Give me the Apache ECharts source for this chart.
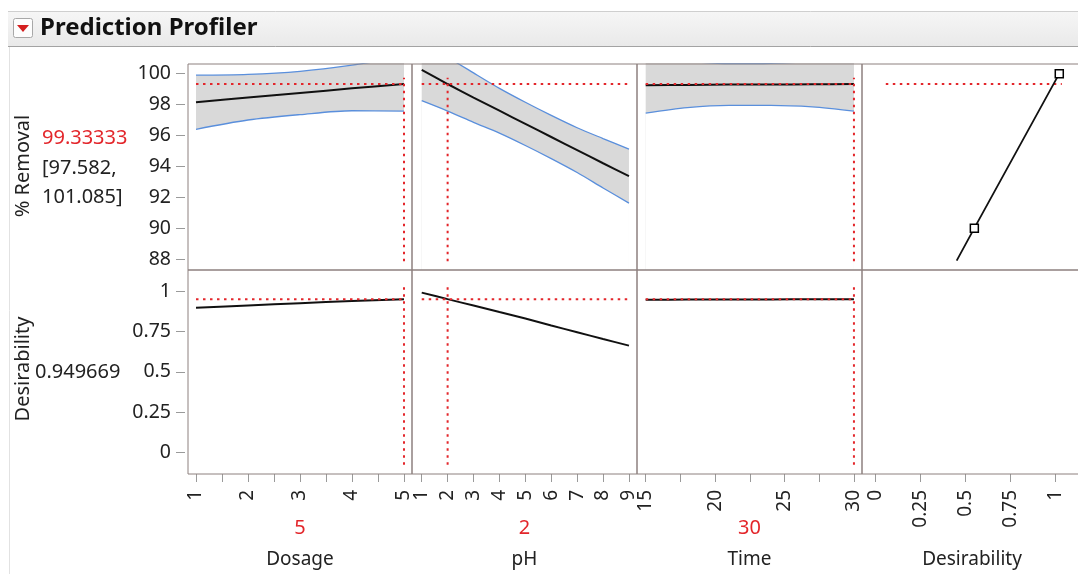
<!DOCTYPE html>
<html>
<head>
<meta charset="utf-8">
<title>Prediction Profiler</title>
<script src="https://cdn.jsdelivr.net/npm/echarts@6/dist/echarts.min.js"></script>
<style>html,body{margin:0;padding:0;background:#fff;}</style>
</head>
<body>
<div id="main" style="width:1078px;height:574px;"></div>
<script>
// profile traces
var dosage = [1, 2, 3, 4, 5];
var dosagePred = [98.15, 98.45, 98.75, 99.05, 99.33];
var dosageLow = [96.4, 97.0, 97.35, 97.6, 97.58];
var dosageHigh = [99.9, 99.95, 100.15, 100.55, 101.085];
var dosageDes = [0.897, 0.911, 0.925, 0.938, 0.9497];

var ph = [1, 2, 3, 4, 5, 6, 7, 8, 9];
var phPred = [100.25, 99.33, 98.45, 97.6, 96.75, 95.9, 95.05, 94.2, 93.37];
var phLow = [98.25, 97.58, 96.85, 96.15, 95.35, 94.5, 93.6, 92.6, 91.62];
var phHigh = [102.25, 101.08, 100.05, 99.05, 98.15, 97.3, 96.5, 95.8, 95.12];
var phDes = [0.99, 0.9497, 0.91, 0.87, 0.83, 0.787, 0.745, 0.703, 0.662];

var time = [15, 18, 21, 24, 27, 30];
var timePred = [99.25, 99.27, 99.29, 99.3, 99.31, 99.33];
var timeLow = [97.45, 97.8, 97.95, 97.95, 97.85, 97.58];
var timeHigh = [101.05, 100.8, 100.65, 100.67, 100.8, 101.085];
var timeDes = [0.946, 0.947, 0.948, 0.948, 0.949, 0.9497];

// desirability function of % Removal
var desFnX = [0.451, 0.549, 1.02];
var desFnY = [87.9, 90, 100];

var factorNames = ['Dosage', 'pH', 'Time', 'Desirability'];
var currentSettings = [5, 2, 30];
var predicted = 99.33333;
var ciLow = '97.582';
var ciHigh = '101.085';
var overallDes = 0.949669;

// tick labels
var removalTicks = [88, 90, 92, 94, 96, 98, 100];
var desTicks = [0, 0.25, 0.5, 0.75, 1];
var dosageTicks = [1, 2, 3, 4, 5];
var dosageMinor = [1.5, 2.5, 3.5, 4.5];
var phTicks = [1, 2, 3, 4, 5, 6, 7, 8, 9];
var timeTicks = [15, 20, 25, 30];
var timeMinor = [17.5, 22.5, 27.5];
var desXTicks = [0, 0.25, 0.5, 0.75, 1];

// layout
var FONT = 'Noto Sans';
var RED = '#e3262b';
var colLeft = [188, 412, 637, 862];
var colWidth = [224, 225, 225, 220];
var rowTop = [64, 270];
var rowHeight = [206, 204];
var xRange = [[0.846, 5.154], [0.625, 9.31], [14.375, 30.58], [-0.074, 1.146]];
var yRange = [[87.29, 100.625], [-0.132, 1.13]];
var vRefSpan = [[87.85, 99.74], [-0.075, 1.05]];
var desRefSpan = [0.058, 1.034];

var majorX = [dosageTicks, phTicks, timeTicks, desXTicks];
var allX = [dosageTicks.concat(dosageMinor), phTicks, timeTicks.concat(timeMinor), desXTicks];
var majorY = [removalTicks, desTicks];

function pairs(xs, ys) {
    return xs.map(function (x, i) { return [x, ys[i]]; });
}

var myChart = echarts.init(document.getElementById('main'));

var grids = [], xAxes = [], yAxes = [], series = [];
for (var i = 0; i < 8; i++) {
    var col = i % 4, row = Math.floor(i / 4);
    grids.push({
        left: colLeft[col], top: rowTop[row], width: colWidth[col], height: rowHeight[row],
        show: true, z: 5, backgroundColor: 'transparent', outerBoundsMode: 'none', containLabel: false,
        borderColor: '#8d807e', borderWidth: 1
    });
    var nm = col < 3 ? String(currentSettings[col]) : ' ';
    xAxes.push({
        gridIndex: i, type: 'value', min: xRange[col][0], max: xRange[col][1],
        show: row === 1, position: 'bottom',
        axisLine: { show: false, onZero: false },
        splitLine: { show: false },
        axisTick: { customValues: allX[col], length: 8, lineStyle: { color: '#9a9a9a' } },
        axisLabel: { customValues: majorX[col], rotate: 90, margin: 16, fontSize: 19, color: '#222', fontFamily: FONT },
        name: '{v|' + nm + '}\n{n|' + factorNames[col] + '}',
        nameLocation: 'middle', nameGap: 39, nameMoveOverlap: false,
        nameTextStyle: {
            rich: {
                v: { color: RED, fontSize: 20, lineHeight: 31, fontFamily: FONT },
                n: { color: '#222', fontSize: 19, lineHeight: 31, fontFamily: FONT }
            }
        }
    });
    yAxes.push({
        gridIndex: i, type: 'value', min: yRange[row][0], max: yRange[row][1],
        show: col === 0, offset: 3, position: 'left',
        axisLine: { show: false, onZero: false },
        splitLine: { show: false },
        axisTick: { customValues: majorY[row], length: 9, lineStyle: { color: '#9a9a9a' } },
        axisLabel: { customValues: majorY[row], margin: 14, fontSize: 19.5, color: '#222', fontFamily: FONT }
    });
}

var dotted = { color: RED, width: 2, type: [2.5, 4.5] };
var factors = [
    { x: dosage, pred: dosagePred, low: dosageLow, high: dosageHigh, des: dosageDes },
    { x: ph, pred: phPred, low: phLow, high: phHigh, des: phDes },
    { x: time, pred: timePred, low: timeLow, high: timeHigh, des: timeDes }
];

factors.forEach(function (f, c) {
    var first = f.x[0], last = f.x[f.x.length - 1];
    var base = { type: 'line', xAxisIndex: c, yAxisIndex: c, symbol: 'none', silent: true, animation: false };
    series.push(Object.assign({}, base, {
        data: pairs(f.x, f.high), smooth: 0.3, z: 1,
        lineStyle: { opacity: 0 }, areaStyle: { color: '#d9d9d9', origin: 'start', opacity: 1 }
    }));
    series.push(Object.assign({}, base, {
        data: pairs(f.x, f.low), smooth: 0.3, z: 1,
        lineStyle: { opacity: 0 }, areaStyle: { color: '#ffffff', origin: 'start', opacity: 1 }
    }));
    series.push(Object.assign({}, base, {
        data: pairs(f.x, f.low), smooth: 0.3, z: 2, lineStyle: { color: '#5a8fdc', width: 1.3 }
    }));
    series.push(Object.assign({}, base, {
        data: pairs(f.x, f.high), smooth: 0.3, z: 2, lineStyle: { color: '#5a8fdc', width: 1.3 }
    }));
    series.push(Object.assign({}, base, {
        data: pairs(f.x, f.pred), smooth: 0.3, z: 3, lineStyle: { color: '#111', width: 2 }
    }));
    series.push(Object.assign({}, base, {
        data: [[first, predicted], [last, predicted]], z: 4, lineStyle: dotted
    }));
    series.push(Object.assign({}, base, {
        data: [[currentSettings[c], vRefSpan[0][0]], [currentSettings[c], vRefSpan[0][1]]], z: 4, lineStyle: dotted
    }));
    // desirability row
    var b2 = Object.assign({}, base, { xAxisIndex: c + 4, yAxisIndex: c + 4 });
    series.push(Object.assign({}, b2, {
        data: pairs(f.x, f.des), smooth: 0.3, z: 3, lineStyle: { color: '#111', width: 2 }
    }));
    series.push(Object.assign({}, b2, {
        data: [[first, overallDes], [last, overallDes]], z: 4, lineStyle: dotted
    }));
    series.push(Object.assign({}, b2, {
        data: [[currentSettings[c], vRefSpan[1][0]], [currentSettings[c], vRefSpan[1][1]]], z: 4, lineStyle: dotted
    }));
});

// desirability function panel
series.push({
    type: 'line', xAxisIndex: 3, yAxisIndex: 3, silent: true, animation: false,
    data: [[desRefSpan[0], predicted], [desRefSpan[1], predicted]],
    symbol: 'none', z: 2, lineStyle: dotted
});
series.push({
    type: 'line', xAxisIndex: 3, yAxisIndex: 3, silent: true, animation: false,
    data: pairs(desFnX, desFnY).map(function (p, i) {
        return i === 0 ? { value: p, symbol: 'none' } : { value: p };
    }),
    symbol: 'rect', symbolSize: 8, showSymbol: true, z: 3,
    itemStyle: { color: '#fff', borderColor: '#000', borderWidth: 1.5 },
    lineStyle: { color: '#111', width: 1.8 }
});

var option = {
    backgroundColor: '#ffffff',
    animation: false,
    grid: grids,
    xAxis: xAxes,
    yAxis: yAxes,
    series: series,
    graphic: [
        {
            type: 'rect', shape: { x: 8, y: 11, width: 1070, height: 36 }, silent: true, z: 0,
            style: {
                fill: new echarts.graphic.LinearGradient(0, 0, 0, 1, [
                    { offset: 0, color: '#f6f6f6' }, { offset: 1, color: '#e9e9e9' }
                ])
            }
        },
        { type: 'line', shape: { x1: 8, y1: 11.5, x2: 1078, y2: 11.5 }, style: { stroke: '#cfcfcf', lineWidth: 1 }, silent: true },
        { type: 'line', shape: { x1: 8, y1: 46.5, x2: 1078, y2: 46.5 }, style: { stroke: '#a3a3a3', lineWidth: 1 }, silent: true },
        { type: 'line', shape: { x1: 9.5, y1: 47, x2: 9.5, y2: 574 }, style: { stroke: '#e2e2e2', lineWidth: 1 }, silent: true },
        { type: 'rect', shape: { x: 13.5, y: 18.5, width: 19, height: 19, r: 2 }, style: { fill: '#fdfdfd', stroke: '#a8a8a8', lineWidth: 1 }, silent: true },
        { type: 'polygon', shape: { points: [[17, 25], [29, 25], [23, 32]] }, style: { fill: '#d41f1f' }, silent: true },
        {
            type: 'text', x: 40, y: 28, silent: true,
            style: { text: 'Prediction Profiler', fill: '#111', font: 'bold 24px "Noto Sans"', textAlign: 'left', textVerticalAlign: 'middle' }
        },
        {
            type: 'text', x: 23, y: 166, rotation: Math.PI / 2, silent: true,
            style: { text: '% Removal', fill: '#222', font: '20px "Noto Sans"', textAlign: 'center', textVerticalAlign: 'middle' }
        },
        {
            type: 'text', x: 23, y: 369, rotation: Math.PI / 2, silent: true,
            style: { text: 'Desirability', fill: '#222', font: '20px "Noto Sans"', textAlign: 'center', textVerticalAlign: 'middle' }
        },
        {
            type: 'text', x: 42, y: 138, silent: true,
            style: { text: predicted.toFixed(5), fill: RED, font: '20px "Noto Sans"', textAlign: 'left', textVerticalAlign: 'middle' }
        },
        {
            type: 'text', x: 42, y: 168, silent: true,
            style: { text: '[' + ciLow + ',', fill: '#222', font: '20px "Noto Sans"', textAlign: 'left', textVerticalAlign: 'middle' }
        },
        {
            type: 'text', x: 42, y: 197, silent: true,
            style: { text: ciHigh + ']', fill: '#222', font: '20px "Noto Sans"', textAlign: 'left', textVerticalAlign: 'middle' }
        },
        {
            type: 'text', x: 35, y: 372, silent: true,
            style: { text: String(overallDes), fill: '#222', font: '20px "Noto Sans"', textAlign: 'left', textVerticalAlign: 'middle' }
        }
    ]
};

myChart.setOption(option);
</script>
</body>
</html>
